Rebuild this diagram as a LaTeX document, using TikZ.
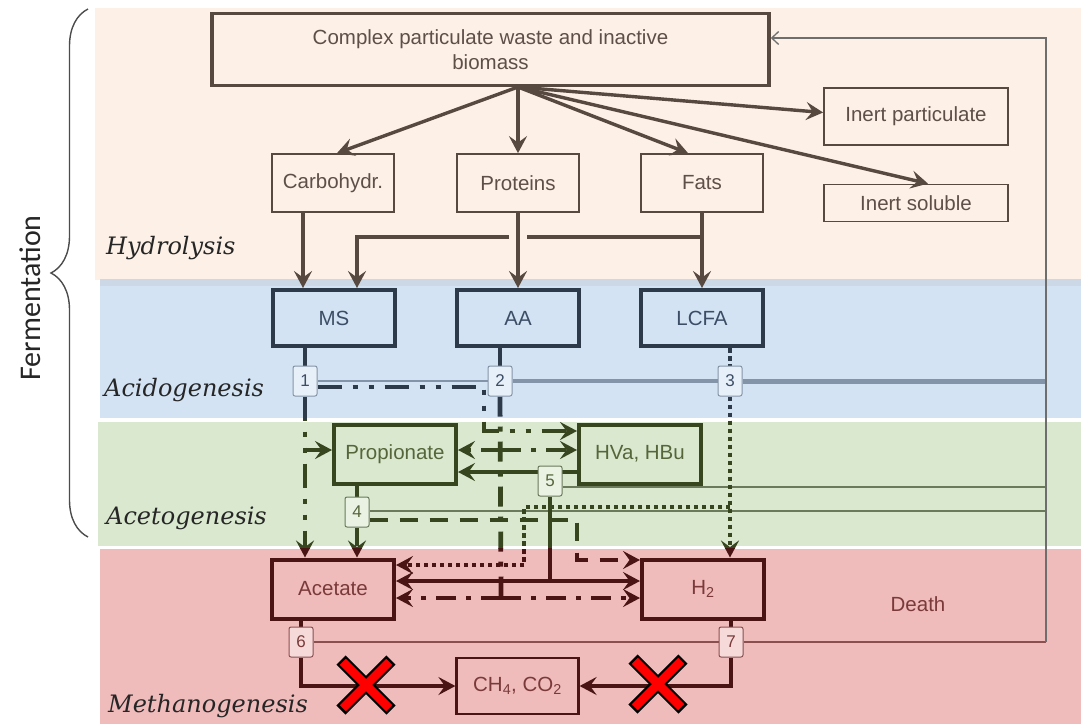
\documentclass[tikz,border=0pt]{standalone}
\usepackage{fontspec}
\setmainfont{Liberation Sans}
\newfontfamily\stagefont{DejaVu Serif}
\newfontfamily\fermfont{Carlito}
\usetikzlibrary{arrows.meta,calc,decorations.pathreplacing}
\pgfdeclarelayer{bands}
\pgfdeclarelayer{flow}
\pgfsetlayers{bands,flow,main}

\definecolor{peach}{HTML}{FCF0E7}
\definecolor{bluebg}{HTML}{D3E3F3}
\definecolor{bluetop}{HTML}{CCD8E5}
\definecolor{greenbg}{HTML}{D9E8CE}
\definecolor{redbg}{HTML}{EFBBBB}
\definecolor{hline}{HTML}{574840}
\definecolor{htext}{HTML}{5E4F48}
\definecolor{bline}{HTML}{2C3A4A}
\definecolor{btext}{HTML}{3C4D66}
\definecolor{gline}{HTML}{37461F}
\definecolor{gtext}{HTML}{56663A}
\definecolor{rline}{HTML}{4A1414}
\definecolor{rtext}{HTML}{7A3A3A}
\definecolor{procb}{HTML}{8494A8}
\definecolor{procg}{HTML}{6A7A5A}
\definecolor{procr}{HTML}{8A5050}
\definecolor{deathc}{HTML}{6E6E6E}
\definecolor{xred}{HTML}{FF0000}

\newcommand\bxfont{\fontsize{20.5}{25}\selectfont}
\newcommand\nbfont{\fontsize{17}{17}\selectfont}

\tikzset{
  every node/.style={inner sep=0pt},
  >={Stealth[length=17pt,width=18pt,inset=6.5pt]},
  hbox/.style={draw=hline, line width=1.8pt, text=htext, font=\bxfont, minimum width=122pt, minimum height=58pt},
  bbox/.style={draw=bline, line width=4pt, text=btext, font=\bxfont, minimum width=122pt, minimum height=56pt},
  gbox/.style={draw=gline, line width=4pt, text=gtext, font=\bxfont, minimum width=122pt, minimum height=59pt},
  rbox/.style={draw=rline, line width=4pt, text=rtext, font=\bxfont, minimum width=122pt, minimum height=59pt},
  numbase/.style={line width=1pt, rounded corners=2pt, minimum width=24pt, minimum height=30pt, font=\nbfont},
  nb/.style={numbase, draw=procb, fill=bluebg!55!white, text=btext},
  ng/.style={numbase, draw=procg, fill=greenbg!55!white, text=gtext},
  nr/.style={numbase, draw=procr, fill=redbg!55!white, text=rtext},
  harrow/.style={draw=hline, line width=3.4pt, ->},
  hplain/.style={draw=hline, line width=3.4pt},
  fl/.style={draw=fc, line width=4.8pt, line cap=butt},
  pone/.style={dash pattern=on 24pt off 11pt on 5pt off 11pt on 5pt off 11pt},
  ptwo/.style={dash pattern=on 20pt off 10pt on 5pt off 10pt},
  pthree/.style={dash pattern=on 4.5pt off 3.5pt},
  pfour/.style={dash pattern=on 18pt off 12pt},
  stage/.style={font=\fontsize{24}{28}\selectfont\stagefont\itshape, text=black!85, anchor=west},
}

\newcommand\myflows{%
  \draw[fl] (ms.south -| n1) -- (n1.north);
  \draw[fl] (aa.south -| n2) -- (n2.north);
  \draw[fl,pthree] (lcfa.south -| n3) -- (n3.north);
  \draw[fl] (prop.south -| n4) -- (n4.north);
  \draw[fl] (acet.south -| n6) -- (n6.north);
  \draw[fl] (htwo.south -| n7) -- (n7.north);
  % process 1 (MS)
  \draw[fl,pone,->] ($(n1.east)+(0,6)$) -- (p1a) -- (p1b) -- (hva.west |- p1b);
  \draw[fl,pone,->] (n1.south) -- (n1.south |- acet.north);
  \draw[fl,->] (n1.south |- p2a) -- (prop.west |- p2a);
  % process 2 (AA)
  \draw[fl,ptwo] (n2.south) -- (p2b);
  \draw[fl,ptwo,->] (p2a) -- (prop.east |- p2a);
  \draw[fl,ptwo,->] (p2a) -- (hva.west |- p2a);
  \draw[fl,ptwo,->] (p2b) -- (acet.east |- p2b);
  \draw[fl,ptwo,->] (p2b) -- (htwo.west |- p2b);
  % process 3 (LCFA)
  \draw[fl,pthree,->] (n3.south) -- (n3.south |- htwo.north);
  \draw[fl,pthree,->] (p3a) -- (p3b) -- (p3c) -- (acet.east |- p3c);
  % process 4 (propionate)
  \draw[fl,pfour,->] (n4.south) -- (n4.south |- acet.north);
  \draw[fl,pfour,->] ($(n4.east)+(0,8)$) -- (p4a) -- (p4b) -- (htwo.west |- p4b);
  % process 5 (HVa, HBu)
  \draw[fl,->] (hva.west |- p5c) -- (prop.east |- p5c);
  \draw[fl] (n5.south) -- (p5a);
  \draw[fl,->] (p5a) -- (acet.east |- p5a);
  \draw[fl,->] (p5a) -- (htwo.west |- p5a);
  % processes 6, 7
  \draw[fl,->] (n6.south) |- (ch.west);
  \draw[fl,->] (n7.south) |- (ch.east);
}

\begin{document}
\begin{tikzpicture}[x=1pt,y=-1pt]
\useasboundingbox (0,0) rectangle (1081,724);

\begin{pgfonlayer}{bands}
  \fill[white] (0,0) rectangle (1081,724);
  \fill[peach] (95,8) rectangle (1081,280);
  \fill[bluebg] (100,280) rectangle (1081,418);
  \fill[bluetop] (100,279) rectangle (1081,286);
  \fill[greenbg] (98,422) rectangle (1081,546);
  \fill[redbg] (100,549) rectangle (1081,724);
\end{pgfonlayer}

% ---------- nodes ----------
\node[hbox, line width=3.5pt, minimum width=557pt, minimum height=72pt, align=center] (cx) at (490.5,49.5) {Complex particulate waste and inactive\\biomass};
\node[hbox, minimum width=184pt, minimum height=57pt] (ip) at (916,116.5) {Inert particulate};
\node[hbox, minimum width=184pt, minimum height=37pt] (is) at (916,203) {Inert soluble};
\node[hbox] (carb) at (333,183) {Carbohydr.};
\node[hbox] (prot) at (518,183) {Proteins};
\node[hbox] (fats) at (702,183) {Fats};

\node[bbox] (ms) at (334,318) {MS};
\node[bbox] (aa) at (518,318) {AA};
\node[bbox] (lcfa) at (702,318) {LCFA};

\node[gbox] (prop) at (395,454) {Propionate};
\node[gbox] (hva) at (640,454) {HVa, HBu};

\node[rbox] (acet) at (333,589) {Acetate};
\node[rbox] (htwo) at (703,589) {H\textsubscript{2}};
\node[rbox, line width=2.2pt, minimum width=122pt, minimum height=56pt] (ch) at (517.5,686) {CH\textsubscript{4}, CO\textsubscript{2}};

\node[nb] (n1) at (305,381) {1};
\node[nb] (n2) at (500,381) {2};
\node[nb] (n3) at (730,381) {3};
\node[ng] (n4) at (357,512) {4};
\node[ng] (n5) at (550,481) {5};
\node[nr] (n6) at (301,642) {6};
\node[nr] (n7) at (731,642) {7};

\node[font=\bxfont, text=rtext] (death) at (918,604) {Death};

\node[stage] (lhyd) at (106,248) {Hydrolysis};
\node[stage] (lacid) at (104,390) {Acidogenesis};
\node[stage] (lacet) at (106,518) {Acetogenesis};
\node[stage] (lmeth) at (108,706) {Methanogenesis};

\node[font=\fontsize{30}{30}\selectfont\fermfont, text=black!85, rotate=90] (ferm) at (30,298) {Fermentation};
\draw[decorate, decoration={brace, amplitude=37pt}, line width=1.4pt, draw=black!70] (88,537) -- (88,9);

% ---------- coordinates ----------
\coordinate (hub) at (518,87);
\coordinate (fj) at (702,237);
\coordinate (fk) at (357,237);
\coordinate (p1a) at (484,387);
\coordinate (p1b) at (484,431);
\coordinate (p2a) at (501,450);
\coordinate (p2b) at (501,598);
\coordinate (p3a) at (730,507);
\coordinate (p3b) at (524,507);
\coordinate (p3c) at (524,565);
\coordinate (p4a) at (577,520);
\coordinate (p4b) at (577,560);
\coordinate (p5a) at (550,581);
\coordinate (p5c) at (550,472);
\coordinate (dT) at (1046,38);
\coordinate (dB) at (1046,642);
\coordinate (xa) at (366,685);
\coordinate (xb) at (658,684);

% ---------- hydrolysis arrows ----------
\draw[harrow] (hub) -- ($(carb.north)+(4,0)$);
\draw[harrow] (hub) -- (prot.north);
\draw[harrow] (hub) -- ($(fats.north)+(-14,0)$);
\draw[harrow] (hub) -- ($(ip.west)+(0,-4)$);
\draw[harrow] (hub) -- ($(is.north)+(12,0)$);

\draw[harrow] ($(carb.south)+(-30,0)$) -- ($(ms.north)+(-31,0)$);
\draw[harrow] (prot.south) -- (aa.north);
\draw[harrow] (fats.south) -- (lcfa.north);
\draw[hplain] (fj) -- (527,237);
\draw[harrow] (509,237) -- (fk) -- (fk |- ms.north);

% ---------- flow layer ----------
\begin{pgfonlayer}{flow}
  \draw[procb, line width=2pt] (n1.east) -- (n2.west);
  \draw[procb, line width=3.5pt] (n2.east) -- (n3.west);
  \draw[procb, line width=5pt] (n3.east) -- (n3 -| dT);
  \draw[procg, line width=1.3pt] (n5.east |- 0,487) -- (dT |- 0,487);
  \draw[procg, line width=1.3pt] (n4.east |- 0,511) -- (dT |- 0,511);
  \draw[procr, line width=1.2pt] (n6.east) -- (n7.west);
  \draw[procr, line width=1.2pt] (n7.east) -- (dB);
  \draw[deathc, line width=1.3pt, -{Straight Barb[length=7pt,width=13pt]}] (dB) -- (dT) -- (cx.east |- dT);

  \begin{scope}
    \clip (0,0) rectangle (1081,420);
    \colorlet{fc}{bline}
    \myflows
  \end{scope}
  \begin{scope}
    \clip (0,420) rectangle (1081,548);
    \colorlet{fc}{gline}
    \myflows
  \end{scope}
  \begin{scope}
    \clip (0,548) rectangle (1081,724);
    \colorlet{fc}{rline}
    \myflows
  \end{scope}
\end{pgfonlayer}

% ---------- red crosses ----------
\foreach \c in {xa,xb}{
  \draw[black, line width=13pt] ($(\c)+(-25,-25)$) -- ($(\c)+(25,25)$);
  \draw[black, line width=13pt] ($(\c)+(-25,25)$) -- ($(\c)+(25,-25)$);
}
\foreach \c in {xa,xb}{
  \draw[xred, line width=8.5pt] ($(\c)+(-23.2,-23.2)$) -- ($(\c)+(23.2,23.2)$);
  \draw[xred, line width=8.5pt] ($(\c)+(-23.2,23.2)$) -- ($(\c)+(23.2,-23.2)$);
}
\end{tikzpicture}
\end{document}
